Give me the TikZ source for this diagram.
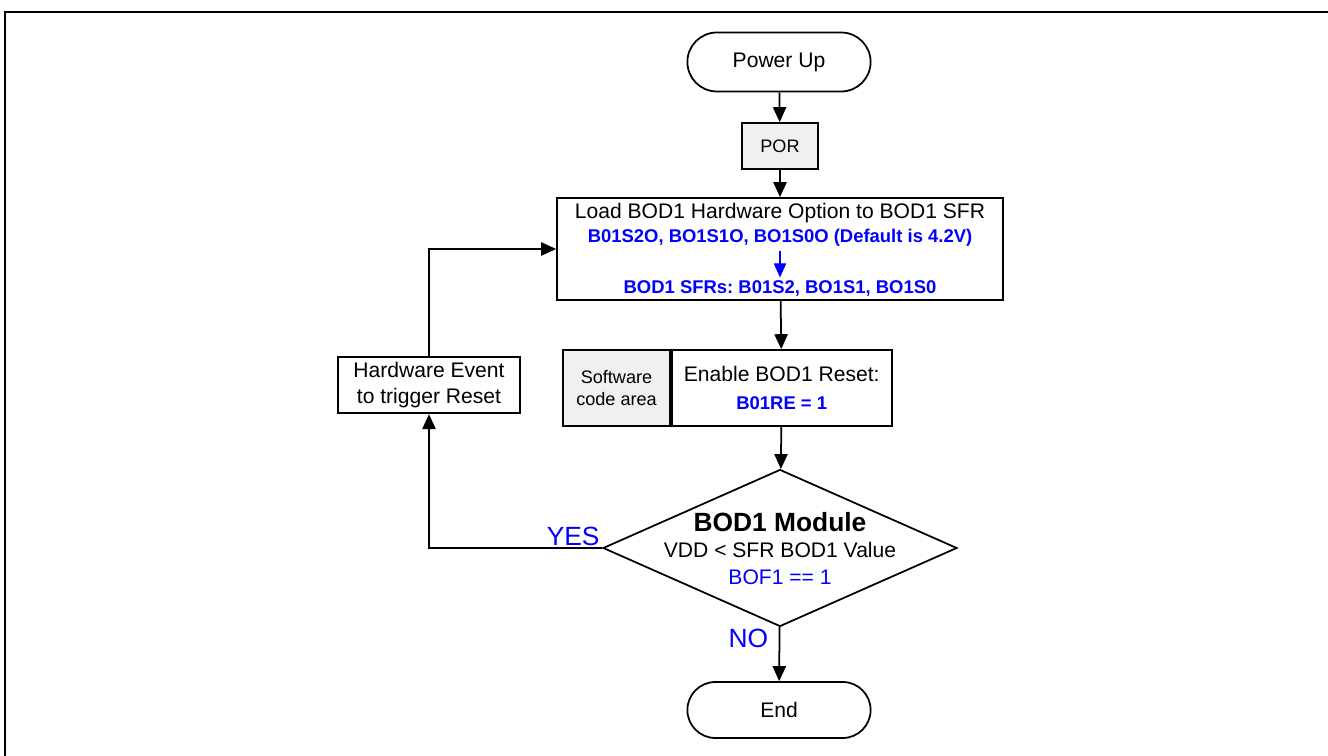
\documentclass[tikz,border=0pt]{standalone}
\usepackage{fontspec}
\setmainfont{Liberation Sans}
\usetikzlibrary{shapes.misc,shapes.geometric,arrows.meta,positioning}

\begin{document}
\frenchspacing
\begin{tikzpicture}[x=0.02cm,y=-0.02cm,line width=1pt,
    terminal/.style={rounded rectangle,draw,minimum width=3.9cm,font=\fontsize{12}{14}\selectfont},
    process/.style={rectangle,draw,align=center,font=\fontsize{12}{14}\selectfont},
    graybox/.style={process,fill=gray!12},
    arr/.style={-{Triangle[width=7.5pt,length=8.5pt]}},
    bluebits/.style={text=blue,font=\fontsize{10.5}{12}\selectfont\bfseries,inner sep=1pt},
    answer/.style={text=blue,font=\fontsize{15}{17}\selectfont,inner sep=1pt}]
  \useasboundingbox (0,0) rectangle (1328,756);

  % Frame
  \draw[line width=1.3pt] (5,760) -- (5,12) -- (1332,12);

  % Main column
  \node[terminal,minimum height=1.18cm] (power) at (779,62) {Power Up};
  \node[graybox,minimum width=1.52cm,minimum height=0.92cm,font=\fontsize{10.3}{12}\selectfont] (por) at (780,146) {POR};

  \node[process,minimum width=8.92cm,minimum height=2.04cm] (load) at (780,249) {};
  \node[inner sep=0pt,font=\fontsize{12}{14}\selectfont] (loadtxt) at (780,213) {Load BOD1 Hardware Option to BOD1 SFR};
  \node[bluebits] (optbits) at (780,238) {B01S2O, BO1S1O, BO1S0O (Default is 4.2V)};
  \node[bluebits] (sfrbits) at (780,288) {BOD1 SFRs: B01S2, BO1S1, BO1S0};
  \draw[blue,line width=0.6pt,shorten <=1pt,-{Triangle[width=7pt,length=8pt]}] (optbits.south) -- (sfrbits.north);

  % Software part
  \node[graybox,minimum width=2.14cm,minimum height=1.52cm,font=\fontsize{10.3}{13}\selectfont] (swarea) at (616.5,388) {Software\\code area};
  \node[process,minimum width=4.4cm,minimum height=1.52cm,font=\fontsize{12}{15.5}\selectfont,right=0pt of swarea] (enable)
    {Enable BOD1 Reset:\\{\color{blue}\bfseries\fontsize{10.5}{15.5}\selectfont B01RE = 1}};

  % Decision
  \node[diamond,draw,aspect=2.25,inner sep=0pt,minimum width=7.08cm,minimum height=3.14cm] (check) at (780,548) {};
  \node[font=\fontsize{15}{17}\selectfont\bfseries] (modname) at (780,522) {BOD1 Module};
  \node[font=\fontsize{12}{14}\selectfont] (cond) at (780,550) {VDD < SFR BOD1 Value};
  \node[font=\fontsize{12}{14}\selectfont,text=blue] (flag) at (780,577) {BOF1 == 1};

  \node[terminal,minimum height=1.12cm] (endn) at (779,710) {End};

  % Reset loop
  \node[process,minimum width=3.64cm,minimum height=1.12cm,font=\fontsize{12}{14.3}\selectfont] (hwevent) at (429,385) {Hardware Event\\to trigger Reset};

  % Connectors
  \draw[arr] (power) -- (por);
  \draw[arr] (por) -- (load);
  \draw[arr] (load) -- (enable);
  \draw[arr] (enable) -- (check);
  \draw[arr] (check) -- node[answer,left=5pt,pos=0.2] (nolbl) {NO} (endn);
  \draw[arr] (check.west) node[answer,above left] (yeslbl) {YES} -| (hwevent.south);
  \draw[arr] (hwevent.north) |- (load.west);
\end{tikzpicture}
\end{document}
